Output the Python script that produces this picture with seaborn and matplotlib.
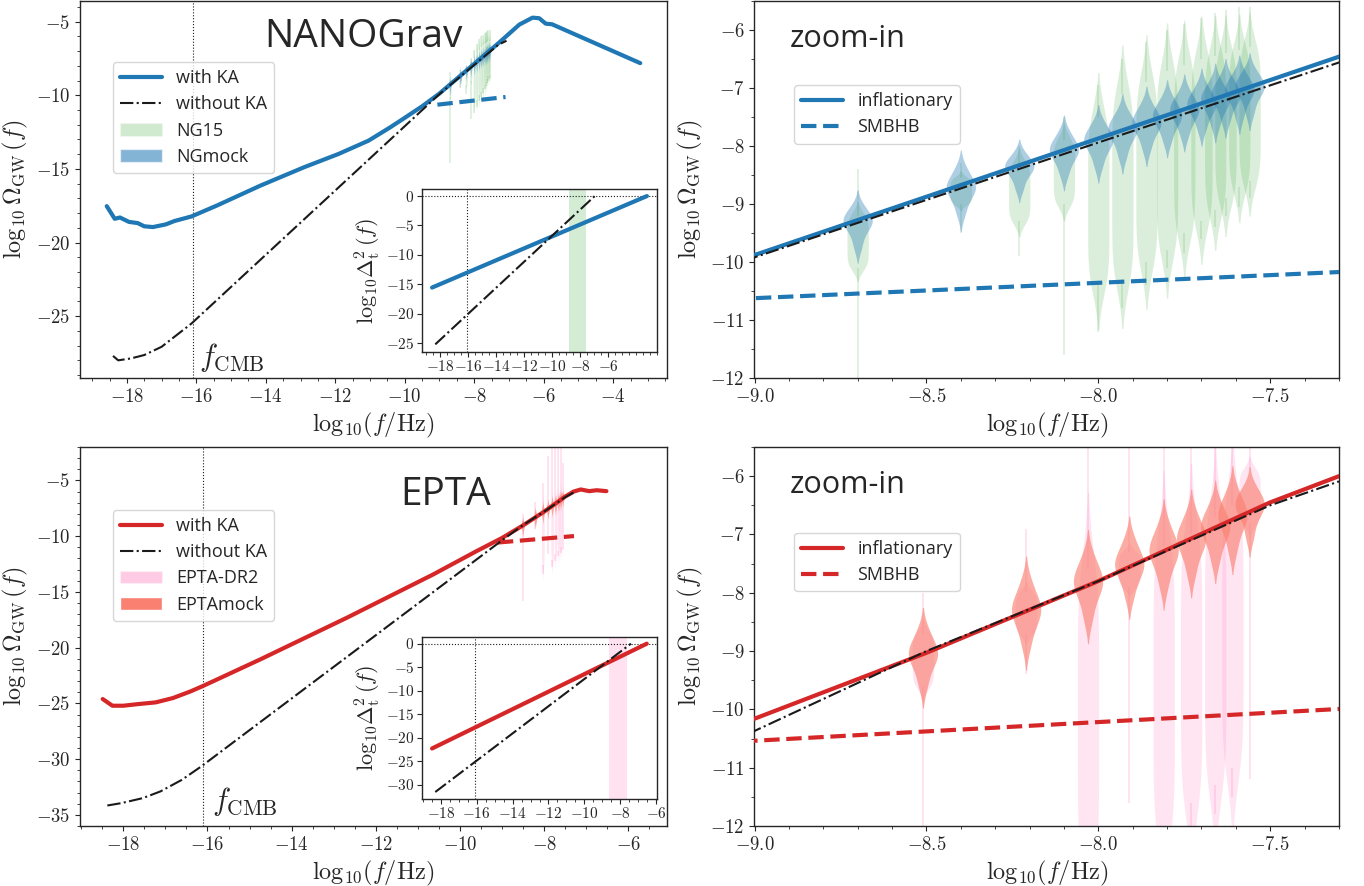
import numpy as np
import pandas as pd
import matplotlib
matplotlib.use("Agg")
import matplotlib.pyplot as plt
import seaborn as sns
from matplotlib.ticker import FuncFormatter, AutoMinorLocator
from matplotlib.lines import Line2D
from matplotlib.patches import Patch

# ------------------------------------------------------------------ data
# NANOGrav: Omega_GW curves (log10 f, log10 Omega)
NG_KA_X = [-18.58, -18.35, -18.20, -17.94, -17.69, -17.50, -17.25, -16.88, -16.63, -16.14,
           -15.40, -14.15, -12.90, -11.90, -11.04, -10.42, -10.05, -9.50, -9.00, -8.00,
           -7.30, -6.70, -6.32, -6.13, -5.94, -5.76, -3.22]
NG_KA_Y = [-17.53, -18.39, -18.30, -18.60, -18.68, -18.90, -18.95, -18.77, -18.54, -18.23,
           -17.48, -16.13, -14.89, -13.98, -13.08, -12.18, -11.61, -10.75, -9.88, -7.87,
           -6.46, -5.20, -4.73, -4.77, -5.14, -5.18, -7.82]
NG_NOKA_X = [-18.40, -18.25, -17.88, -17.50, -17.00, -16.63, -16.14, -9.00, -8.00, -7.30, -7.07]
NG_NOKA_Y = [-27.70, -28.00, -27.87, -27.64, -27.08, -26.40, -25.50, -9.92, -7.94, -6.56, -6.30]
NG_SMBHB_X = [-9.06, -7.10]
NG_SMBHB_Y = [-10.64, -10.12]
# NANOGrav inset: tensor power spectrum
NG_DKA_X = [-18.58, -3.22]
NG_DKA_Y = [-15.55, 0.0]
NG_DNOKA_X = [-18.35, -6.95]
NG_DNOKA_Y = [-25.2, 0.0]
NG_BAND = [-8.79, -7.59]

# NANOGrav violins (frequency bins)
NG_POS = [-8.70, -8.40, -8.23, -8.10, -8.00, -7.93, -7.86, -7.80, -7.75, -7.70, -7.66, -7.63, -7.59, -7.56]
NGMOCK_C = [-9.30, -8.72, -8.36, -8.07, -7.90, -7.72, -7.60, -7.48, -7.38, -7.28, -7.20, -7.12, -7.04, -6.98]
NGMOCK_UP = [0.50, 0.65, 0.45, 0.60, 0.60, 0.60, 0.62, 0.62, 0.62, 0.62, 0.62, 0.62, 0.58, 0.55]
NGMOCK_DN = [0.85, 0.85, 0.72, 0.80, 0.85, 0.88, 0.86, 0.82, 0.82, 0.82, 0.85, 0.85, 0.88, 0.88]
NG15_TIP_TOP = [-8.40, -8.30, -8.00, -7.50, -6.95, -6.50, -6.20, -6.00, -5.90, -5.80, -5.70, -5.65, -5.60, -5.60]
NG15_BODY_TOP = [-9.20, -8.55, -8.30, -7.90, -7.50, -7.10, -6.90, -6.70, -6.60, -6.50, -6.45, -6.40, -6.35, -6.30]
NG15_BODY_BOT = [-10.10, -9.00, -9.30, -9.00, -10.40, -10.30, -10.00, -9.80, -9.50, -9.30, -9.10, -8.90, -8.70, -8.60]
NG15_TIP_BOT = [-14.60, -9.50, -9.90, -11.60, -11.20, -10.80, -10.40, -10.10, -9.85, -9.60, -9.40, -9.20, -9.05, -8.90]

# EPTA: Omega_GW curves
EP_KA_X = [-18.49, -18.26, -18.00, -17.64, -17.23, -16.82, -16.40, -16.09, -14.76, -12.70,
           -10.64, -9.61, -9.00, -8.50, -8.00, -7.50, -7.30, -7.13, -6.93, -6.75, -6.52]
EP_KA_Y = [-24.61, -25.21, -25.21, -25.06, -24.91, -24.52, -23.92, -23.41, -21.08, -17.34,
           -13.44, -11.35, -10.16, -9.03, -7.80, -6.45, -6.00, -5.81, -5.96, -5.88, -5.96]
EP_NOKA_X = [-18.38, -18.05, -17.54, -17.12, -16.61, -16.15, -9.00, -8.50, -8.00, -7.50, -7.30]
EP_NOKA_Y = [-34.16, -33.95, -33.50, -32.90, -31.86, -30.66, -10.37, -9.00, -7.80, -6.50, -6.09]
EP_SMBHB_X = [-9.10, -7.29]
EP_SMBHB_Y = [-10.57, -9.99]
# EPTA inset
EP_DKA_X = [-18.49, -6.52]
EP_DKA_Y = [-22.3, 0.0]
EP_DNOKA_X = [-18.31, -7.40]
EP_DNOKA_Y = [-31.56, 0.0]
EP_BAND = [-8.62, -7.65]

# EPTA violins
EP_POS = [-8.51, -8.21, -8.03, -7.91, -7.81, -7.73, -7.66, -7.61, -7.56]
EPMOCK_C = [-9.05, -8.30, -7.82, -7.52, -7.28, -7.08, -6.88, -6.68, -6.50]
EPMOCK_UP = [0.80, 0.95, 0.90, 0.85, 0.90, 0.85, 0.80, 0.85, 0.60]
EPMOCK_DN = [1.05, 1.15, 1.20, 1.05, 1.15, 1.15, 1.10, 1.15, 1.05]
DR2_TIP_TOP = [-8.00, -6.90, -5.20, -2.80, -1.50, -1.50, -1.80, -2.00, -3.40]
DR2_BODY_TOP = [-8.70, -8.00, -7.60, -7.30, -7.20, -7.00, -6.70, -6.50, -5.90]
DR2_BODY_BOT = [-9.60, -8.70, -12.60, -7.90, -12.10, -11.60, -11.30, -11.00, -6.80]
DR2_TIP_BOT = [-15.80, -9.40, -13.40, -11.60, -12.80, -12.20, -11.80, -11.50, -11.20]

F_CMB = -16.1

# ------------------------------------------------------------------ style
sns.set_theme(style="ticks", rc={
    "xtick.direction": "out", "ytick.direction": "out",
    "xtick.major.size": 3.5, "ytick.major.size": 3.5,
    "xtick.minor.size": 2.0, "ytick.minor.size": 2.0,
    "xtick.major.width": 0.8, "ytick.major.width": 0.8,
    "xtick.minor.width": 0.6, "ytick.minor.width": 0.6,
    "axes.linewidth": 1.0,
})
plt.rcParams["font.family"] = ["Open Sans", "DejaVu Sans"]
plt.rcParams["mathtext.fontset"] = "cm"

BLUE = "#1f77b4"
RED = "#d62728"
GREEN = "#2ca02c"
PINK = "hotpink"
SALMON = "salmon"

# template positions (fractions) used to turn read extents into KDE sample sets
MOCK_UP_Q = [0.5, 0.22, 0.07]
MOCK_DN_Q = [0.07, 0.22, 0.5]
BODY_Q = [0.0, 0.125, 0.25, 0.375, 0.5, 0.625, 0.75, 0.875, 1.0]

W, H = 1364, 886
fig = plt.figure(figsize=(W / 100, H / 100), dpi=100)


def rect(l, t, r, b):
    return [l / W, 1 - b / H, (r - l) / W, (b - t) / H]


ax_ng = fig.add_axes(rect(80, 1, 667, 378))
ax_ngz = fig.add_axes(rect(754.5, 1, 1339, 378))
ax_ep = fig.add_axes(rect(80, 447, 667, 826))
ax_epz = fig.add_axes(rect(754.5, 447, 1339, 826))
ins_ng = fig.add_axes(rect(422, 189, 657, 352))
ins_ep = fig.add_axes(rect(422, 637, 657, 799))

VW_MOCK = 0.085   # violin widths in log10 f units
VW_REAL = 0.062


def draw_violins(ax, pos, samples, color, alpha, z, bw_adjust, vw):
    df = pd.DataFrame({
        "logf": np.repeat(pos, [len(s) for s in samples]),
        "val": np.concatenate(samples),
    })
    nw = np.min(np.diff(np.unique(pos)))
    sns.violinplot(data=df, x="logf", y="val", native_scale=True, orient="x",
                   color=color, saturation=1, inner=None, linewidth=0,
                   density_norm="width", width=vw / nw, cut=2,
                   bw_adjust=bw_adjust, alpha=alpha, zorder=z, ax=ax)


def mock_sets(c, up, dn):
    out = []
    for ci, u, d in zip(c, up, dn):
        out.append([ci + u * q for q in MOCK_UP_Q] + [ci] + [ci - d * q for q in MOCK_DN_Q])
    return out


def body_sets(top, bot):
    return [[t + (b - t) * q for q in BODY_Q] for t, b in zip(top, bot)]


def all_violins(ax, real):
    if real == "ng":
        draw_violins(ax, NG_POS, body_sets(NG15_BODY_TOP, NG15_BODY_BOT), GREEN, 0.17, 1.5, 0.6, VW_REAL)
        ax.vlines(NG_POS, NG15_TIP_TOP, NG15_BODY_TOP, colors=GREEN, alpha=0.17, lw=1.2, zorder=1.5)
        ax.vlines(NG_POS, NG15_BODY_BOT, NG15_TIP_BOT, colors=GREEN, alpha=0.17, lw=1.2, zorder=1.5)
        draw_violins(ax, NG_POS, mock_sets(NGMOCK_C, NGMOCK_UP, NGMOCK_DN), BLUE, 0.36, 2, 1.0, VW_MOCK)
    else:
        draw_violins(ax, EP_POS, body_sets(DR2_BODY_TOP, DR2_BODY_BOT), PINK, 0.17, 1.5, 0.6, VW_REAL)
        ax.vlines(EP_POS, DR2_TIP_TOP, DR2_BODY_TOP, colors=PINK, alpha=0.22, lw=1.2, zorder=1.5)
        ax.vlines(EP_POS, DR2_BODY_BOT, DR2_TIP_BOT, colors=PINK, alpha=0.22, lw=1.2, zorder=1.5)
        draw_violins(ax, EP_POS, mock_sets(EPMOCK_C, EPMOCK_UP, EPMOCK_DN), SALMON, 0.65, 2, 1.0, VW_MOCK)


def curves(ax, kx, ky, nx, ny, sx, sy, color):
    sns.lineplot(x=kx, y=ky, ax=ax, color=color, lw=3, sort=False, estimator=None, zorder=4)
    sns.lineplot(x=nx, y=ny, ax=ax, color="k", lw=1.5, linestyle="-.", sort=False, estimator=None, zorder=5)
    sns.lineplot(x=sx, y=sy, ax=ax, color=color, lw=3, linestyle="--", sort=False, estimator=None, zorder=4)


int_fmt = FuncFormatter(lambda v, p: f"${v:g}$")
one_fmt = FuncFormatter(lambda v, p: f"${v:.1f}$")
XLAB = r"$\mathrm{log}_{10}(f/{\rm Hz})$"
YLAB = r"$\mathrm{log}_{10}\,\Omega_{\rm GW}\,(f)$"
DLAB = r"$\mathrm{log}_{10}\Delta_{\rm t}^2\,(f)$"


def style_main(ax, xt, yt, xl, yl):
    ax.set_xlim(*xl)
    ax.set_ylim(*yl)
    ax.set_xticks(xt)
    ax.set_yticks(yt)
    ax.xaxis.set_major_formatter(int_fmt)
    ax.yaxis.set_major_formatter(int_fmt)
    ax.xaxis.set_minor_locator(AutoMinorLocator())
    ax.yaxis.set_minor_locator(AutoMinorLocator())
    ax.tick_params(labelsize=13.5)
    ax.set_xlabel(XLAB, fontsize=17.5)
    ax.set_ylabel(YLAB, fontsize=17.5)


def style_zoom(ax):
    ax.set_xlim(-9.0, -7.3)
    ax.set_ylim(-12, -5.5)
    ax.set_xticks([-9.0, -8.5, -8.0, -7.5])
    ax.set_yticks([-12, -11, -10, -9, -8, -7, -6])
    ax.xaxis.set_major_formatter(one_fmt)
    ax.yaxis.set_major_formatter(int_fmt)
    ax.xaxis.set_minor_locator(AutoMinorLocator(5))
    ax.yaxis.set_minor_locator(AutoMinorLocator(2))
    ax.tick_params(labelsize=13.5)
    ax.set_xlabel(XLAB, fontsize=17.5)
    ax.set_ylabel(YLAB, fontsize=17.5)


def style_inset(ax, yt, xl, yl):
    ax.set_facecolor("white")
    ax.set_xlim(*xl)
    ax.set_ylim(*yl)
    ax.set_xticks([-18, -16, -14, -12, -10, -8, -6])
    ax.set_yticks(yt)
    ax.xaxis.set_major_formatter(int_fmt)
    ax.yaxis.set_major_formatter(int_fmt)
    ax.xaxis.set_minor_locator(AutoMinorLocator())
    ax.tick_params(labelsize=11, pad=2)
    ax.set_xlabel("")
    ax.set_ylabel(DLAB, fontsize=16, labelpad=2)


LEG_KW = dict(loc="upper left", borderaxespad=0, fontsize=13, handlelength=2.3,
              labelspacing=0.45, framealpha=0.8)

# ------------------------------------------------------------------ NANOGrav main
all_violins(ax_ng, "ng")
curves(ax_ng, NG_KA_X, NG_KA_Y, NG_NOKA_X, NG_NOKA_Y, NG_SMBHB_X, NG_SMBHB_Y, BLUE)
ax_ng.axvline(F_CMB, color="k", ls=":", lw=0.8, zorder=1)
style_main(ax_ng, [-18, -16, -14, -12, -10, -8, -6, -4], [-25, -20, -15, -10, -5],
           (-19.35, -2.45), (-29.2, -3.6))
ax_ng.text(F_CMB + 0.17, -28.4, r"$f_{\rm CMB}$", fontsize=22, ha="left", va="baseline")
ax_ng.text(0.483, 0.879, "NANOGrav", transform=ax_ng.transAxes, fontsize=28,
           ha="center", va="baseline")
ax_ng.legend(handles=[
    Line2D([], [], color=BLUE, lw=3, label="with KA"),
    Line2D([], [], color="k", lw=1.5, ls="-.", label="without KA"),
    Patch(facecolor=GREEN, alpha=0.22, label="NG15"),
    Patch(facecolor=BLUE, alpha=0.55, label="NGmock"),
], bbox_to_anchor=(0.056, 0.838), **LEG_KW)

# NANOGrav inset
ins_ng.axvspan(NG_BAND[0], NG_BAND[1], color=GREEN, alpha=0.2, lw=0)
sns.lineplot(x=NG_DKA_X, y=NG_DKA_Y, ax=ins_ng, color=BLUE, lw=3, estimator=None, zorder=3)
sns.lineplot(x=NG_DNOKA_X, y=NG_DNOKA_Y, ax=ins_ng, color="k", lw=1.5, linestyle="-.",
             estimator=None, zorder=4)
ins_ng.axvline(F_CMB, color="k", ls=":", lw=0.8)
ins_ng.axhline(0, color="k", ls=":", lw=0.8)
style_inset(ins_ng, [0, -5, -10, -15, -20, -25], (-19.3, -2.5), (-26.5, 1.2))

# NANOGrav zoom
all_violins(ax_ngz, "ng")
curves(ax_ngz, NG_KA_X, NG_KA_Y, NG_NOKA_X, NG_NOKA_Y, NG_SMBHB_X, NG_SMBHB_Y, BLUE)
style_zoom(ax_ngz)
ax_ngz.text(0.061, 0.879, "zoom-in", transform=ax_ngz.transAxes, fontsize=22,
            ha="left", va="baseline")
ax_ngz.legend(handles=[
    Line2D([], [], color=BLUE, lw=3, label="inflationary"),
    Line2D([], [], color=BLUE, lw=3, ls="--", label="SMBHB"),
], bbox_to_anchor=(0.068, 0.777), **LEG_KW)

# ------------------------------------------------------------------ EPTA main
all_violins(ax_ep, "ep")
curves(ax_ep, EP_KA_X, EP_KA_Y, EP_NOKA_X, EP_NOKA_Y, EP_SMBHB_X, EP_SMBHB_Y, RED)
ax_ep.axvline(F_CMB, color="k", ls=":", lw=0.8, zorder=1)
style_main(ax_ep, [-18, -16, -14, -12, -10, -8, -6], [-35, -30, -25, -20, -15, -10, -5],
           (-19.03, -5.08), (-36, -2))
ax_ep.text(F_CMB + 0.21, -34.55, r"$f_{\rm CMB}$", fontsize=22, ha="left", va="baseline")
ax_ep.text(0.623, 0.847, "EPTA", transform=ax_ep.transAxes, fontsize=28,
           ha="center", va="baseline")
ax_ep.legend(handles=[
    Line2D([], [], color=RED, lw=3, label="with KA"),
    Line2D([], [], color="k", lw=1.5, ls="-.", label="without KA"),
    Patch(facecolor=PINK, alpha=0.35, label="EPTA-DR2"),
    Patch(facecolor=SALMON, alpha=1.0, label="EPTAmock"),
], bbox_to_anchor=(0.056, 0.834), **LEG_KW)

# EPTA inset
ins_ep.axvspan(EP_BAND[0], EP_BAND[1], color=PINK, alpha=0.2, lw=0)
sns.lineplot(x=EP_DKA_X, y=EP_DKA_Y, ax=ins_ep, color=RED, lw=3, estimator=None, zorder=3)
sns.lineplot(x=EP_DNOKA_X, y=EP_DNOKA_Y, ax=ins_ep, color="k", lw=1.5, linestyle="-.",
             estimator=None, zorder=4)
ins_ep.axvline(F_CMB, color="k", ls=":", lw=0.8)
ins_ep.axhline(0, color="k", ls=":", lw=0.8)
style_inset(ins_ep, [0, -5, -10, -15, -20, -25, -30], (-19.05, -5.95), (-33.05, 1.42))

# EPTA zoom
all_violins(ax_epz, "ep")
curves(ax_epz, EP_KA_X, EP_KA_Y, EP_NOKA_X, EP_NOKA_Y, EP_SMBHB_X, EP_SMBHB_Y, RED)
style_zoom(ax_epz)
ax_epz.text(0.061, 0.879, "zoom-in", transform=ax_epz.transAxes, fontsize=22,
            ha="left", va="baseline")
ax_epz.legend(handles=[
    Line2D([], [], color=RED, lw=3, label="inflationary"),
    Line2D([], [], color=RED, lw=3, ls="--", label="SMBHB"),
], bbox_to_anchor=(0.068, 0.774), **LEG_KW)

fig.savefig("out.png", dpi=100)
